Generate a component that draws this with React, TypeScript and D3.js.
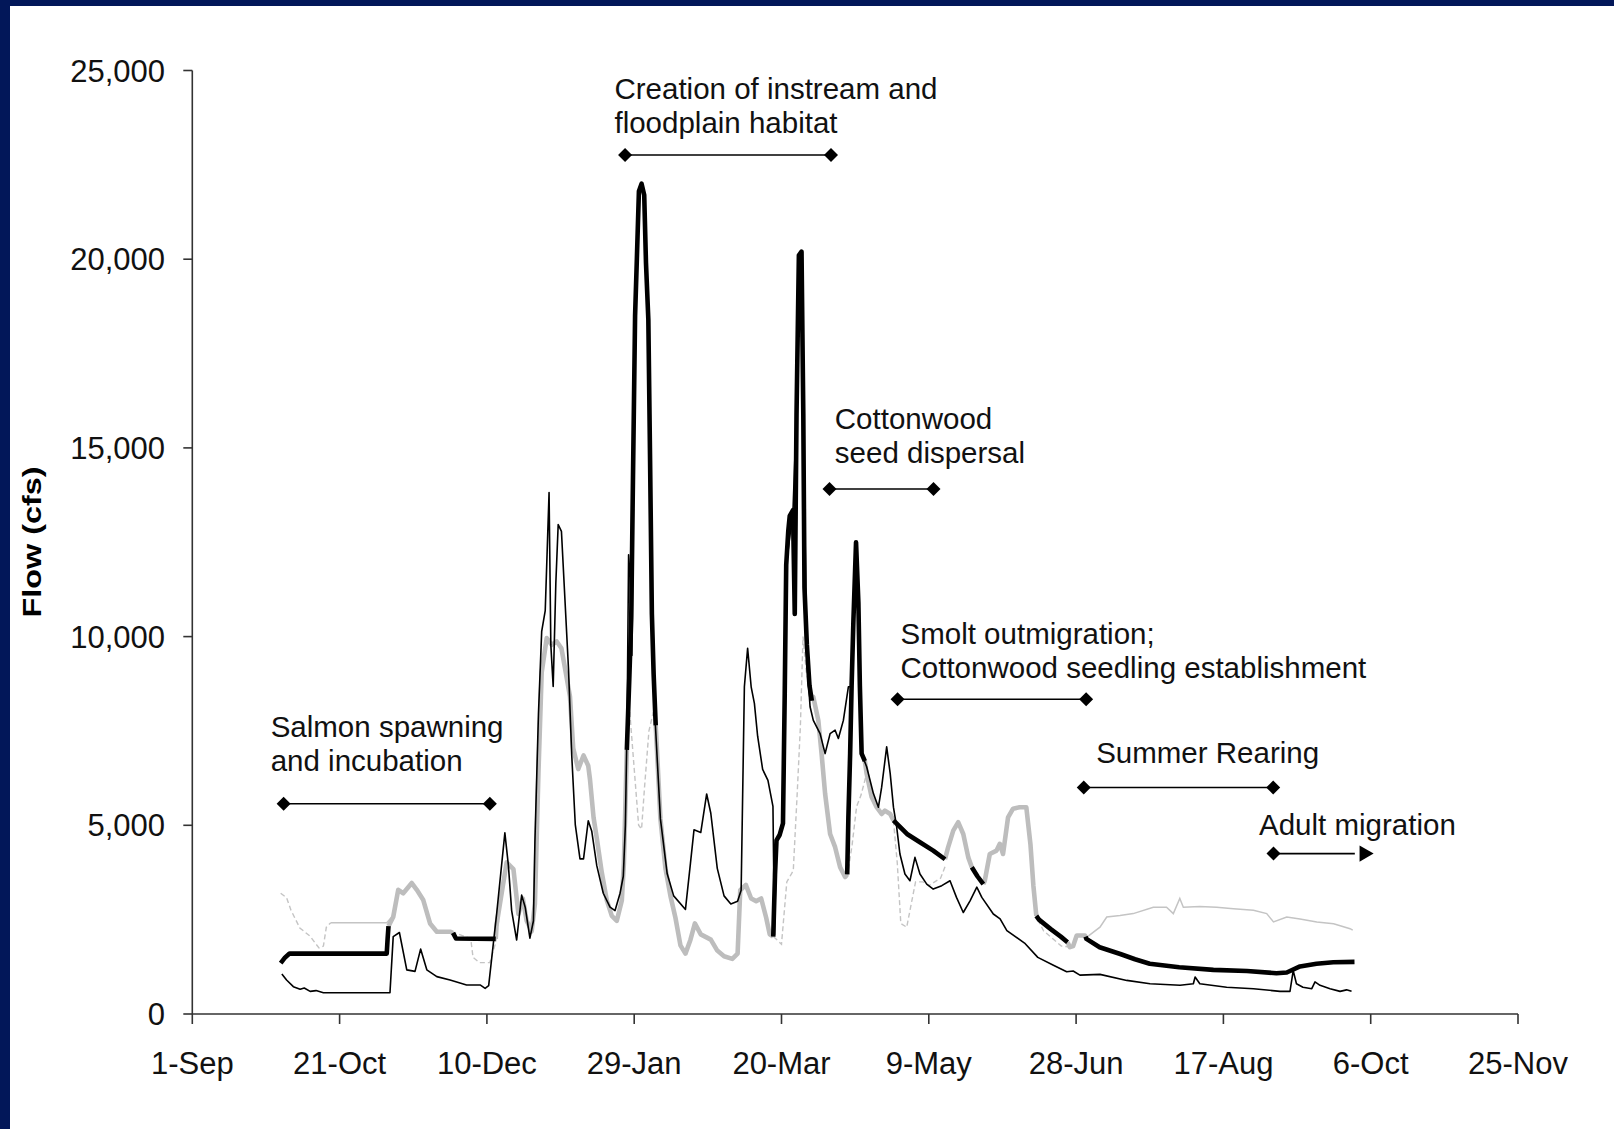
import React from "react";
import * as d3 from "d3";

type Pt = [number, number];

// x: days after 1-Sep, y: flow (cfs)
const tickDays = [0, 50, 100, 150, 200, 250, 300, 350, 400, 450];
const tickLabels = ["1-Sep", "21-Oct", "10-Dec", "29-Jan", "20-Mar", "9-May", "28-Jun", "17-Aug", "6-Oct", "25-Nov"];
const yTicks = [0, 5000, 10000, 15000, 20000, 25000];

const thinBlack: Pt[] = [
  [30.4, 1060], [32, 900], [34.3, 725], [36.6, 655], [38, 690], [40, 600], [42, 620], [44.5, 565], [67.1, 565],
  [68.2, 2050], [70.3, 2160], [72.8, 1170], [75.6, 1130], [77.5, 1720], [79.6, 1170], [83, 990], [87.5, 900],
  [93.1, 770], [97.7, 770], [99.4, 680], [100.6, 750], [103.3, 2650], [106.1, 4800], [107.3, 3930], [108.4, 2740],
  [110.1, 1960], [111.8, 3150], [113, 2830], [114.6, 2010], [115.8, 2470], [116.3, 4570], [117.5, 7950],
  [118.6, 10140], [119.8, 10690], [120.6, 12610], [121.1, 13815], [121.7, 9780], [122.5, 8680], [123.4, 11420],
  [124.2, 12970], [125.3, 12790], [126.5, 10970], [127.7, 9140], [128.8, 6850], [130, 5020], [131.6, 4110],
  [132.8, 4110], [134.4, 5120], [135.6, 4840], [137.3, 3930], [139.5, 3200], [141.8, 2830], [143.5, 2740],
  [145.2, 3200], [146.3, 3650], [147, 5000], [147.6, 7800], [148.1, 12170], [148.6, 11580], [149.2, 9500],
  [150.3, 18500], [151.6, 21800], [152.5, 22000], [153.4, 21700], [154.8, 18400], [156, 10600], [157.2, 7650],
  [158.9, 5170], [161.2, 3715], [163.4, 3130], [167.4, 2770], [169.1, 4000], [170.3, 4880], [172.6, 4810],
  [174.6, 5830], [176, 5320], [178.2, 3860], [180.5, 3130], [182.8, 2915], [185.1, 2990], [186.3, 3280],
  [187.4, 8670], [188.5, 9690], [189.7, 8670], [190.8, 8230], [191.9, 7360], [193.6, 6480], [195.4, 6190],
  [197.1, 5500], [197.6, 2100], [198.3, 4600], [200.5, 5030], [201.6, 11870], [203.9, 13330], [205.1, 15950],
  [205.9, 20110], [206.8, 20180], [207.4, 15950], [208.6, 9380], [209.7, 8140], [210.8, 7780], [213.1, 7430],
  [214.8, 6900], [216.5, 7430], [218.2, 7520], [219.3, 7300], [221, 7780], [222.7, 8670], [223.8, 8670],
  [224.4, 10440], [225.3, 12470], [226.1, 10880], [226.6, 8000], [227.2, 6900], [228.9, 6550], [231.2, 5840],
  [232.9, 5480], [234, 6010], [235.7, 7080], [236.9, 6370], [238, 5480], [239.1, 4950], [240.2, 4240],
  [241.9, 3710], [243.6, 3530], [245.3, 4150], [247, 3710], [249.3, 3440], [251.5, 3310], [254.4, 3400],
  [257.2, 3530], [259.4, 3090], [261.7, 2690], [264, 3000], [266.3, 3360], [268, 3090], [271.9, 2650],
  [274.2, 2520], [276.5, 2210], [282.5, 1880], [287, 1500], [292.3, 1290], [296.8, 1120], [299, 1140],
  [301.3, 1030], [308.1, 1050], [317.2, 890], [325.1, 800], [335.3, 760], [339.8, 800], [340.4, 980], [342, 800],
  [351.1, 710], [360.2, 670], [369.2, 600], [372.6, 600], [373.7, 1150], [374.8, 800], [377, 710], [380, 670],
  [381.1, 850], [382.8, 760], [386.2, 670], [389.6, 600], [391.8, 640], [393.5, 600],
];

const thickBlackSegments: Pt[][] = [
  [[30, 1350], [31.5, 1500], [33, 1600], [66, 1600], [66.3, 2000], [66.6, 2330]],
  [[88.5, 2150], [89.5, 2000], [103, 1990]],
  [[147.5, 7000], [148.3, 8800], [149, 10500], [149.6, 14300], [150.3, 18500], [150.9, 20000], [151.6, 21800],
    [152.5, 22000], [153.4, 21700], [154, 19900], [154.8, 18400], [155.4, 14600], [156, 10600], [156.6, 9000], [157.3, 7650]],
  [[197.2, 2050], [197.8, 3700], [198.3, 4600], [199.4, 4750], [200.5, 5050], [201.1, 8500], [201.6, 11900],
    [202.3, 12800], [202.8, 13200], [203.9, 13350], [204.5, 10600], [205.1, 15900], [205.9, 20100], [206.8, 20200],
    [207.4, 15900], [207.8, 11300], [208.6, 9800], [209.5, 8700], [210.3, 8300]],
  [[222.3, 3700], [222.7, 5200], [223.3, 6900], [223.8, 8700], [224.4, 10400], [225.3, 12500], [226.1, 10900],
    [226.6, 8700], [227.2, 6900], [228.3, 6700]],
  [[238, 5130], [242.6, 4770], [247, 4550], [251.5, 4330], [255.5, 4100]],
  [[264.6, 3890], [266.5, 3650], [268.5, 3440]],
  [[286.5, 2600], [287.4, 2500], [291.4, 2250], [294.8, 2050], [297.1, 1900]],
  [[303.2, 2050], [303.5, 1990], [308, 1770], [315, 1590], [320, 1450], [325, 1330], [335, 1240], [346.6, 1170],
    [358, 1140], [368, 1080], [371.5, 1100], [376, 1260], [381.6, 1330], [387.3, 1370], [394.5, 1380]],
];

const thickGraySegments: Pt[][] = [
  [[66.6, 2330], [68.2, 2570], [69.9, 3290], [71.6, 3200], [74.5, 3470], [76.2, 3290], [78.4, 3020], [80.7, 2400],
    [83, 2180], [87.5, 2180], [88.5, 2150]],
  [[103, 1990], [103.3, 2375], [106.7, 4020], [109, 3840], [110.7, 2650], [112.2, 3060], [113.5, 2470], [115.2, 2190],
    [116.3, 2920], [117.5, 6400], [118.6, 9050], [120.3, 9960], [122, 9780], [123.7, 9870], [125.3, 9690], [127, 8950],
    [128.2, 8410], [129.3, 7040], [131, 6490], [132.8, 6850], [134.4, 6580], [135, 6210], [136.2, 5210], [137.3, 4660],
    [139, 3750], [140.7, 3010], [142.4, 2600], [144.1, 2470], [145.8, 3010], [146.5, 4000], [147, 5500], [147.5, 7000]],
  [[157.3, 7650], [158.9, 5170], [160.6, 3860], [162.3, 3130], [164, 2550], [165.7, 1820], [167.4, 1600], [169.1, 1970],
    [170.6, 2400], [172.6, 2110], [176, 1970], [178.2, 1680], [180.5, 1530], [183.3, 1460], [185.1, 1600], [186, 3280],
    [187.9, 3420], [189.7, 3060], [191.4, 2990], [193.1, 3060], [194.8, 2550], [196, 2110], [197.2, 2050]],
  [[210.3, 8300], [210.8, 8400], [212.5, 7780], [213.6, 6900], [214.8, 5840], [216.5, 4770], [218.2, 4420],
    [219.9, 3890], [221.6, 3630], [222.3, 3700]],
  [[228.3, 6700], [228.9, 6370], [230.6, 5750], [232.3, 5480], [234, 5300], [235.1, 5390], [236.9, 5300], [238, 5130]],
  [[255.5, 4100], [256.5, 4400], [258.3, 4860], [260, 5080], [261.7, 4770], [263.4, 4150], [264.6, 3890]],
  [[268.5, 3440], [269, 3530], [270.7, 4240], [273, 4330], [274.1, 4510], [275.2, 4240], [276.9, 5210], [278.6, 5440],
    [280.8, 5480], [283.1, 5480], [284.5, 4500], [285.5, 3400], [286.5, 2600]],
  [[297.1, 1900], [297.9, 1770], [299, 1800], [300.2, 2080], [303, 2080], [303.2, 2050]],
];

const thinGrayDashedSegments: Pt[][] = [
  [[30, 3200], [32, 3080], [33.5, 2750], [36.5, 2280], [40, 2060], [43, 1750], [44.5, 1800], [45.5, 2300], [47, 2420]],
  [[88, 2180], [94.5, 2000], [95.3, 1500], [97.5, 1360], [101, 1360], [103, 1900], [104, 2500]],
  [[148.5, 8000], [150, 6500], [151.5, 5000], [152.5, 4900], [153.5, 6000], [155, 7500], [156.5, 8000]],
  [[197.3, 2050], [200, 1850], [201.8, 3500], [204, 3800], [205.3, 5800], [206.4, 7600], [207.3, 10000], [208.5, 9000], [210.5, 8400]],
  [[222.3, 3630], [224, 4500], [225.5, 5500], [227, 5800], [228.9, 6370]],
  [[238, 5130], [239.3, 4000], [240.5, 2400], [242.5, 2300], [244, 2900], [245.5, 3500], [248, 3500], [250, 3400],
    [252, 3500], [254, 3600], [255.5, 3900]],
  [[287, 2500], [289, 2200], [292, 2000], [295, 1800], [297.5, 1780]],
];

const thinGraySolidSegments: Pt[][] = [
  [[47, 2420], [66, 2420], [68, 2600]],
  [[303, 1995], [308.1, 2300], [310.4, 2570], [314.9, 2610], [319.4, 2660], [326.2, 2830], [330.7, 2830], [333, 2660],
    [335.2, 3060], [336.4, 2830], [342, 2850], [347.7, 2830], [353.4, 2790], [360.2, 2750], [364.7, 2660], [367, 2440],
    [371.5, 2570], [376, 2520], [381.7, 2440], [387.4, 2390], [393, 2260], [393.9, 2220]],
];

// annotation periods: [start day, end day, level (cfs)]
const periodStart = [31, 146.9, 216.3, 239.4, 302.6, 367];
const periodEnd = [101, 216.8, 251.6, 303.4, 366.9, 401];
const periodLevel = [5570, 22760, 13910, 8340, 6000, 4250];
const periodArrow = [false, false, false, false, false, true];
const periodText = [
  ["Salmon spawning", "and incubation"],
  ["Creation of instream and", "floodplain habitat"],
  ["Cottonwood", "seed dispersal"],
  ["Smolt outmigration;", "Cottonwood seedling establishment"],
  ["Summer Rearing"],
  ["Adult migration"],
];
// label anchor (day, cfs of first baseline)
const labelDay = [26.6, 143.3, 218.1, 240.4, 306.8, 362.1];
const labelLevel = [7340, 24250, 15500, 9800, 6650, 4740];

const W = 1614;
const H = 1129;
const FONT = "'Liberation Sans', Arial, Helvetica, sans-serif";

export default function App() {
  const x = d3.scaleLinear().domain([0, 450]).range([192.3, 1518]);
  const y = d3.scaleLinear().domain([0, 25000]).range([1014, 70.5]);
  const line = d3.line<Pt>().x((d) => x(d[0])).y((d) => y(d[1]));
  const diamond = d3.symbol().type(d3.symbolSquare).size(98)();
  const tri = d3.symbol().type(d3.symbolTriangle).size(115)();
  const triOffset = Math.sqrt((4 * 115) / Math.sqrt(3)) * (Math.sqrt(3) / 2) * (2 / 3);
  const x0 = x(0);
  const y0 = y(0);
  const fmt = d3.format(",");

  return (
    <svg
      width={W}
      height={H}
      style={{ position: "absolute", left: 0, top: 0, display: "block", background: "#fff" }}
      fontFamily={FONT}
    >
      <rect x={0} y={0} width={W} height={H} fill="#fff" />
      <rect x={0} y={0} width={W} height={6} fill="#021759" />
      <rect x={0} y={0} width={10} height={H} fill="#021759" />

      {/* series */}
      <g fill="none">
        {thinGrayDashedSegments.map((s, i) => (
          <path key={"gd" + i} d={line(s) || ""} stroke="#c4c4c4" strokeWidth={1.4} strokeDasharray="5,3" />
        ))}
        {thinGraySolidSegments.map((s, i) => (
          <path key={"gs" + i} d={line(s) || ""} stroke="#c4c4c4" strokeWidth={1.5} />
        ))}
        {thickGraySegments.map((s, i) => (
          <path key={"tg" + i} d={line(s) || ""} stroke="#bdbdbd" strokeWidth={4.6} strokeLinejoin="round" />
        ))}
        <path d={line(thinBlack) || ""} stroke="#000" strokeWidth={1.6} strokeLinejoin="round" />
        {thickBlackSegments.map((s, i) => (
          <path key={"tb" + i} d={line(s) || ""} stroke="#000" strokeWidth={4.6} strokeLinejoin="round" />
        ))}
      </g>

      {/* axes */}
      <g stroke="#333" strokeWidth={1.6} fill="none">
        <line x1={x0} x2={x0} y1={y(25000)} y2={y0} />
        <line x1={x0} x2={x(450)} y1={y0} y2={y0} />
        {yTicks.map((t) => (
          <line key={"yt" + t} x1={x0 - 9} x2={x0} y1={y(t)} y2={y(t)} />
        ))}
        {tickDays.map((t) => (
          <line key={"xt" + t} x1={x(t)} x2={x(t)} y1={y0} y2={y0 + 10} />
        ))}
      </g>
      <g fontSize={31} fill="#111">
        {yTicks.map((t) => (
          <text key={"yl" + t} x={165} y={y(t)} dy="0.36em" textAnchor="end">
            {fmt(t)}
          </text>
        ))}
        {tickDays.map((t, i) => (
          <text key={"xl" + t} x={x(t)} y={1073.5} textAnchor="middle">
            {tickLabels[i]}
          </text>
        ))}
      </g>
      <text
        transform="translate(41,542) rotate(-90)"
        textAnchor="middle"
        fontSize={26}
        fontWeight="bold"
        textLength={151}
        lengthAdjust="spacingAndGlyphs"
        fill="#000"
      >
        Flow (cfs)
      </text>

      {/* annotations */}
      {periodText.map((lines, i) => {
        const ly = y(periodLevel[i]);
        const xs = x(periodStart[i]);
        const xe = x(periodEnd[i]);
        return (
          <g key={"an" + i}>
            {lines.map((t, j) => (
              <text key={j} x={x(labelDay[i])} y={y(labelLevel[i]) + j * 34} fontSize={29.5} fill="#111">
                {t}
              </text>
            ))}
            <line x1={xs} x2={periodArrow[i] ? xe - 2 * triOffset : xe} y1={ly} y2={ly} stroke="#000" strokeWidth={1.6} />
            <path d={diamond} transform={`translate(${xs},${ly}) rotate(45)`} fill="#000" />
            {periodArrow[i] ? (
              <path d={tri} transform={`translate(${xe - triOffset},${ly}) rotate(90)`} fill="#000" />
            ) : (
              <path d={diamond} transform={`translate(${xe},${ly}) rotate(45)`} fill="#000" />
            )}
          </g>
        );
      })}
    </svg>
  );
}
